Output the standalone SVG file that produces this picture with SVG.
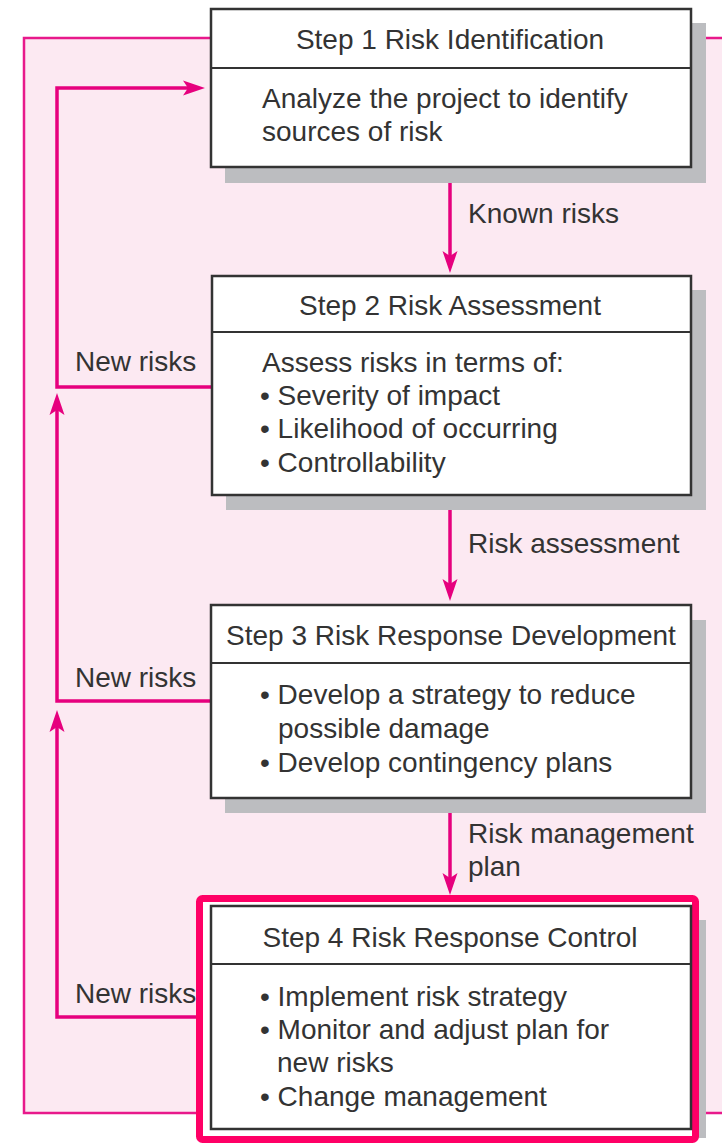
<svg xmlns="http://www.w3.org/2000/svg" width="722" height="1145" viewBox="0 0 722 1145">
<style>
.bg{fill:#fce9f2;stroke:#e8198b;stroke-width:2.5}
.box{fill:#ffffff;stroke:#333333;stroke-width:2.5}
.div{stroke:#333333;stroke-width:2}
.shadow{fill:#bcbdc0}
.flow{fill:none;stroke:#e6007e;stroke-width:3.5}
.t{font-family:"Liberation Sans",Arial,Helvetica,sans-serif;font-size:28px;fill:#333333}
.c{text-anchor:middle}
.hl{fill:#ffffff;stroke:#ff0066;stroke-width:7}
</style>
<defs>
<marker id="ah" markerUnits="userSpaceOnUse" viewBox="0 -8 24 16" markerWidth="24" markerHeight="16" refX="8" refY="0" orient="auto">
<path d="M0,-7.5 L22,0 L0,7.5 L5,0 Z" fill="#e6007e"/>
</marker>
</defs>
<rect class="bg" x="24" y="38" width="720" height="1075"/>
<g id="connectors">
<path class="flow" d="M450,167 V259" marker-end="url(#ah)"/>
<path class="flow" d="M450,495 V587" marker-end="url(#ah)"/>
<path class="flow" d="M450,798 V881" marker-end="url(#ah)"/>
<path class="flow" d="M211,387 H57 V88 H191" marker-end="url(#ah)"/>
<path class="flow" d="M211,701 H57 V407" marker-end="url(#ah)"/>
<path class="flow" d="M211,1017 H57 V724" marker-end="url(#ah)"/>
<text class="t" x="468" y="223">Known risks</text>
<text class="t" x="468" y="553">Risk assessment</text>
<text class="t" x="468" y="843">Risk management</text>
<text class="t" x="468" y="876">plan</text>
<text class="t" x="75" y="371">New risks</text>
<text class="t" x="75" y="687">New risks</text>
<text class="t" x="75" y="1003">New risks</text>
</g>
<g id="step1">
<rect class="shadow" x="225" y="23" width="481" height="160"/>
<rect class="box" x="211" y="9" width="480" height="158"/>
<line class="div" x1="211" y1="68" x2="691" y2="68"/>
<text class="t c" x="450" y="49">Step 1 Risk Identification</text>
<text class="t" x="262" y="108">Analyze the project to identify</text>
<text class="t" x="262" y="141">sources of risk</text>
</g>
<g id="step2">
<rect class="shadow" x="226" y="290" width="480" height="220"/>
<rect class="box" x="212" y="276" width="479" height="219"/>
<line class="div" x1="212" y1="332" x2="691" y2="332"/>
<text class="t c" x="450" y="315">Step 2 Risk Assessment</text>
<text class="t" x="262" y="372">Assess risks in terms of:</text>
<text class="t" x="260" y="405">• Severity of impact</text>
<text class="t" x="260" y="438">• Likelihood of occurring</text>
<text class="t" x="260" y="472">• Controllability</text>
</g>
<g id="step3">
<rect class="shadow" x="225" y="620" width="481" height="193"/>
<rect class="box" x="211" y="605" width="480" height="193"/>
<line class="div" x1="211" y1="663" x2="691" y2="663"/>
<text class="t c" x="451" y="645">Step 3 Risk Response Development</text>
<text class="t" x="260" y="704">• Develop a strategy to reduce</text>
<text class="t" x="278" y="738">possible damage</text>
<text class="t" x="260" y="772">• Develop contingency plans</text>
</g>
<g id="step4">
<rect class="shadow" x="225" y="920" width="481" height="218"/>
<rect class="hl" x="199.5" y="898.5" width="496" height="241" rx="3"/>
<rect class="box" x="211" y="906" width="480" height="223"/>
<line class="div" x1="211" y1="964" x2="691" y2="964"/>
<text class="t c" x="450" y="947">Step 4 Risk Response Control</text>
<text class="t" x="260" y="1006">• Implement risk strategy</text>
<text class="t" x="260" y="1039">• Monitor and adjust plan for</text>
<text class="t" x="277" y="1072">new risks</text>
<text class="t" x="260" y="1106">• Change management</text>
</g>
</svg>
